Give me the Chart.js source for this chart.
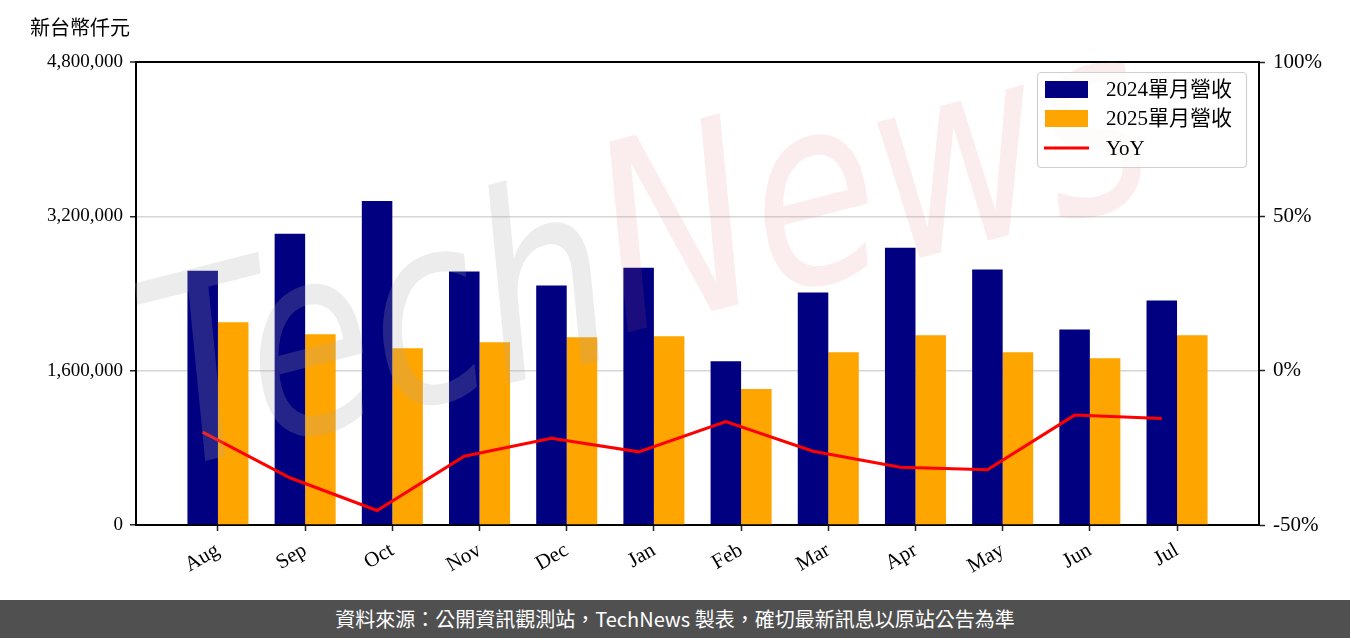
<!DOCTYPE html>
<html>
<head>
<meta charset="utf-8">
<script src="https://cdn.jsdelivr.net/npm/chart.js@4.4.1/dist/chart.umd.min.js"></script>
<style>
  html, body { margin: 0; padding: 0; background: #fff; }
  #wrap { width: 1350px; height: 600px; position: relative; }
  #footer { width: 1350px; height: 38px; background: #505050; color: #fff;
    font-family: "Noto Sans CJK TC", "Noto Sans", sans-serif; font-size: 20px; font-weight: 400;
    line-height: 38px; text-align: center; }
</style>
</head>
<body>
<div id="wrap"><canvas id="c" width="1350" height="600"></canvas></div>
<div id="footer">資料來源：公開資訊觀測站，TechNews 製表，確切最新訊息以原站公告為準</div>
<script>
// ---- data ----
const categories = ["Aug", "Sep", "Oct", "Nov", "Dec", "Jan", "Feb", "Mar", "Apr", "May", "Jun", "Jul"];
const revenue2024 = [2637000, 3019000, 3360000, 2627000, 2483000, 2668000, 1698000, 2410000, 2875000, 2648000, 2028000, 2328000];
const revenue2025 = [2101000, 1977000, 1832000, 1894000, 1946000, 1956000, 1409000, 1791000, 1966000, 1791000, 1729000, 1966000];
const yoyPercent = [-19.9, -34.7, -45.3, -27.7, -21.9, -26.3, -16.5, -26.1, -31.3, -32.1, -14.4, -15.5];
const leftTicks = [0, 1600000, 3200000, 4800000];
const rightTicks = [-50, 0, 50, 100];
const seriesNames = ["2024單月營收", "2025單月營收", "YoY"];
const unitLabel = "新台幣仟元";

const colors = { y2024: "#000080", y2025: "#FFA500", yoy: "#FF0000" };
const catPct = 0.7;
const lineOffset = -catPct / 4;

const serif = '"Liberation Serif", "Noto Sans CJK TC", serif';

const watermark = {
  id: "watermark",
  afterDatasetsDraw(chart) {
    const ctx = chart.ctx;
    ctx.save();
    ctx.translate(170, 470);
    ctx.rotate(-0.25);
    ctx.font = 'italic 260px "DejaVu Sans", sans-serif';
    const w1 = ctx.measureText("Tech").width;
    const w2 = ctx.measureText("News").width;
    const sx = 1030 / (w1 + w2);
    ctx.scale(sx, 1);
    ctx.textBaseline = "alphabetic";
    ctx.fillStyle = "rgba(170,170,170,0.22)";
    ctx.fillText("Tech", 0, 0);
    ctx.fillStyle = "rgba(220,110,110,0.12)";
    ctx.fillText("News", w1, -20);
    ctx.restore();
  }
};

const extras = {
  id: "extras",
  afterDraw(chart) {
    const ctx = chart.ctx;
    ctx.save();
    // unit label
    ctx.font = '20px "Noto Sans CJK TC", sans-serif';
    ctx.fillStyle = "#000";
    ctx.textBaseline = "middle";
    ctx.textAlign = "left";
    ctx.fillText(unitLabel, 30, 27);
    // legend
    const lx = 1037, ly = 72, lw = 209, lh = 95;
    ctx.beginPath();
    ctx.roundRect(lx + 0.5, ly + 0.5, lw, lh, 4);
    ctx.fillStyle = "rgba(255,255,255,0.8)";
    ctx.fill();
    ctx.strokeStyle = "#d0d0d0";
    ctx.lineWidth = 1.2;
    ctx.stroke();
    const rows = [ly + 17, ly + 46, ly + 76];
    ctx.fillStyle = colors.y2024;
    ctx.fillRect(lx + 8, rows[0] - 8, 43, 17);
    ctx.fillStyle = colors.y2025;
    ctx.fillRect(lx + 8, rows[1] - 8, 43, 17);
    ctx.strokeStyle = colors.yoy;
    ctx.lineWidth = 3;
    ctx.beginPath();
    ctx.moveTo(lx + 7, rows[2]);
    ctx.lineTo(lx + 52, rows[2]);
    ctx.stroke();
    ctx.fillStyle = "#000";
    ctx.font = '21px ' + serif;
    seriesNames.forEach((n, i) => ctx.fillText(n, lx + 69, rows[i] + 1));
    ctx.restore();
  }
};

const fmt = v => Number(v).toLocaleString("en-US");

new Chart(document.getElementById("c"), {
  type: "bar",
  data: {
    datasets: [
      {
        label: seriesNames[0],
        data: revenue2024.map((v, i) => ({ x: i, y: v })),
        backgroundColor: colors.y2024,
        yAxisID: "y",
        order: 2
      },
      {
        label: seriesNames[1],
        data: revenue2025.map((v, i) => ({ x: i, y: v })),
        backgroundColor: colors.y2025,
        yAxisID: "y",
        order: 2
      },
      {
        type: "line",
        label: seriesNames[2],
        data: yoyPercent.map((v, i) => ({ x: i + lineOffset, y: v })),
        borderColor: colors.yoy,
        borderWidth: 3,
        pointRadius: 0,
        tension: 0,
        fill: false,
        yAxisID: "y1",
        order: 1
      }
    ]
  },
  options: {
    responsive: false,
    devicePixelRatio: 1,
    animation: false,
    layout: { padding: { top: 62, left: 0, right: 0, bottom: 0 } },
    datasets: { bar: { categoryPercentage: catPct, barPercentage: 1.0, grouped: true } },
    plugins: { legend: { display: false }, tooltip: { enabled: false } },
    scales: {
      x: {
        type: "linear",
        min: -0.94,
        max: 11.94,
        offset: false,
        afterBuildTicks: s => { s.ticks = categories.map((_, i) => ({ value: i })); },
        afterFit: s => { s.height = 75; },
        grid: { offset: false, drawOnChartArea: false, tickColor: "#222", tickLength: 6, tickWidth: 1.5 },
        border: { color: "#000", width: 2 },
        ticks: {
          callback: v => categories[v],
          maxRotation: 30, minRotation: 30, autoSkip: false,
          padding: 7,
          color: "#000",
          font: { family: serif, size: 21 }
        }
      },
      y: {
        position: "left",
        min: 0,
        max: 4800000,
        afterBuildTicks: s => { s.ticks = leftTicks.map(v => ({ value: v })); },
        afterFit: s => { s.width = 136; },
        grid: {
          color: c => (c.tick && (c.tick.value === 4800000)) ? "#000" : (c.tick && c.tick.value === 0 ? "rgba(0,0,0,0)" : "#d6d6d6"),
          lineWidth: c => (c.tick && c.tick.value === 4800000) ? 2 : 1.5,
          tickColor: "#222", tickLength: 6, tickWidth: 1.5
        },
        border: { color: "#000", width: 2 },
        ticks: { callback: fmt, padding: 7, color: "#000", font: { family: serif, size: 19 } }
      },
      y1: {
        position: "right",
        min: -50,
        max: 100,
        afterBuildTicks: s => { s.ticks = rightTicks.map(v => ({ value: v })); },
        afterFit: s => { s.width = 91; },
        grid: { drawOnChartArea: false, tickColor: "#222", tickLength: 6, tickWidth: 1.5 },
        border: { color: "#000", width: 2 },
        ticks: { callback: v => v + "%", padding: 8, color: "#000", font: { family: serif, size: 21 } }
      }
    }
  },
  plugins: [watermark, extras]
});
</script>
</body>
</html>
